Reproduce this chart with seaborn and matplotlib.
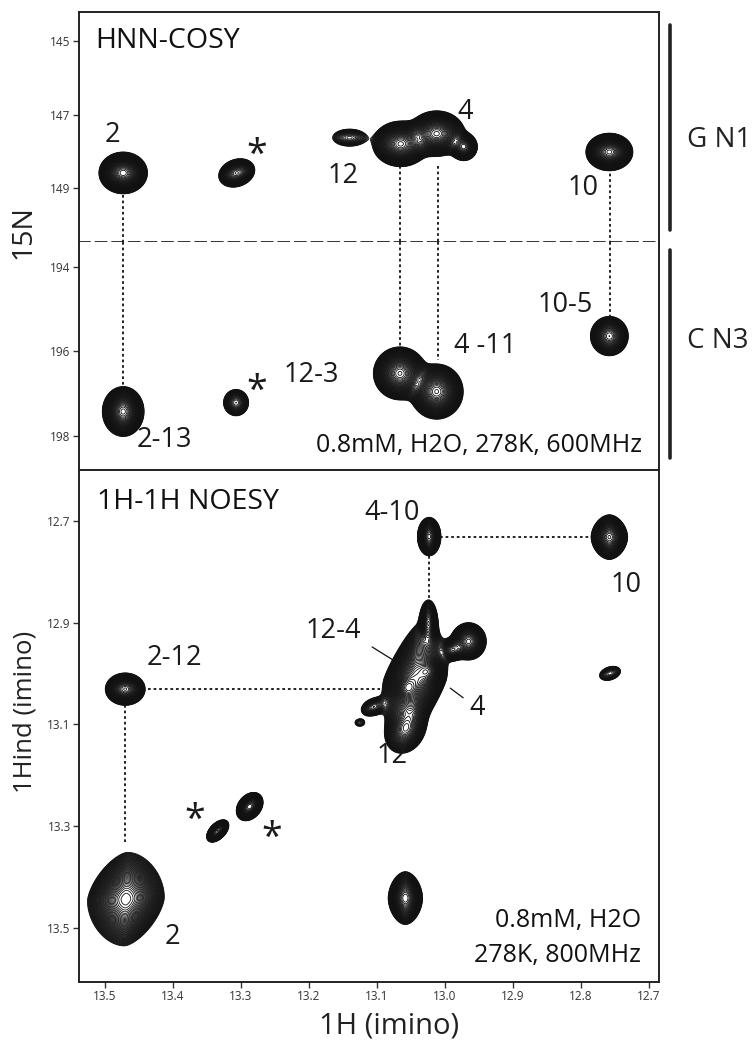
import numpy as np
import matplotlib
matplotlib.use("Agg")
import matplotlib.pyplot as plt
import matplotlib.transforms as mtransforms
from matplotlib.lines import Line2D
import seaborn as sns

sns.set_style("ticks")
plt.rcParams["font.family"] = ["Open Sans", "DejaVu Sans"]

# ---------------------------------------------------------------
# Peak tables: 1H shift, indirect shift, linewidths, height, tilt, shape
# (shape 2 = elliptical gaussian, lower = more diamond-like)

# HNN-COSY, guanine N1 window
gn1_h     = [13.473, 13.306, 13.140, 13.065, 13.012, 12.972, 12.758]
gn1_n     = [148.59, 148.59, 147.63, 147.80, 147.52, 147.88, 148.02]
gn1_sh    = [0.0135, 0.0120, 0.0150, 0.0160, 0.0160, 0.0090, 0.0135]
gn1_sn    = [0.215, 0.175, 0.140, 0.240, 0.240, 0.170, 0.200]
gn1_amp   = [1.00, 0.35, 0.12, 0.85, 0.85, 0.35, 0.80]
gn1_rho   = [0.0, 0.2, 0.0, 0.0, 0.0, 0.0, 0.0]
gn1_shape = [2.0, 2.0, 2.0, 2.0, 2.0, 2.0, 2.0]

# HNN-COSY, cytosine N3 window
cn3_h     = [13.473, 13.307, 13.066, 13.012, 12.758]
cn3_n     = [197.42, 197.21, 196.52, 196.95, 195.64]
cn3_sh    = [0.0120, 0.0095, 0.0150, 0.0150, 0.0120]
cn3_sn    = [0.230, 0.160, 0.240, 0.250, 0.200]
cn3_amp   = [0.80, 0.20, 0.90, 0.90, 0.45]
cn3_rho   = [0.0, 0.0, 0.0, 0.0, 0.0]
cn3_shape = [2.0, 2.0, 2.0, 2.0, 2.0]

# 1H-1H NOESY, imino region
noe_x     = [13.469, 13.470, 13.334, 13.287, 13.058, 13.023, 12.758, 12.757,
             13.044, 13.056, 13.024, 13.024, 12.965, 12.989, 13.058, 13.105, 13.125]
noe_y     = [13.444, 13.031, 13.310, 13.262, 13.442, 12.731, 12.732, 13.000,
             13.013, 13.029, 12.996, 12.900, 12.937, 12.954, 13.111, 13.066, 13.097]
noe_sx    = [0.0215, 0.0120, 0.0072, 0.0085, 0.0105, 0.0073, 0.0110, 0.0100,
             0.0195, 0.0080, 0.0080, 0.0060, 0.0110, 0.0080, 0.0130, 0.0100, 0.0060]
noe_sy    = [0.0350, 0.0130, 0.0097, 0.0120, 0.0216, 0.0160, 0.0180, 0.0090,
             0.0445, 0.0120, 0.0120, 0.0200, 0.0155, 0.0100, 0.0200, 0.0100, 0.0060]
noe_amp   = [1.00, 0.60, 0.40, 0.45, 0.55, 0.50, 0.60, 0.10,
             1.00, 0.50, 0.50, 0.35, 0.50, 0.25, 0.40, 0.15, 0.06]
noe_rho   = [0.15, 0.0, 0.5, 0.3, 0.0, 0.0, 0.0, 0.3,
             0.45, 0.0, 0.0, 0.0, 0.0, 0.0, 0.2, 0.3, 0.0]
noe_shape = [1.65, 2.0, 2.0, 2.0, 1.8, 2.0, 1.8, 2.0,
             1.6, 2.0, 2.0, 2.0, 2.0, 2.0, 2.0, 2.0, 2.0]

# HNN-COSY correlations G N1 -> C N3 (1H shift, N1 end, N3 end)
link_h  = [13.473, 13.066, 13.010, 12.757]
link_n1 = [149.20, 148.40, 148.40, 148.46]
link_n3 = [196.83, 195.92, 196.20, 195.19]

# NOESY walk segments (x0, x1, y0, y1)
walk_x0 = [13.007, 13.023, 13.436, 13.470]
walk_x1 = [12.786, 13.023, 13.095, 13.470]
walk_y0 = [12.731, 12.770, 13.031, 13.062]
walk_y1 = [12.731, 12.881, 13.031, 13.331]

# leader lines on the crowded diagonal
lead_x0 = [13.107, 12.992]
lead_x1 = [13.077, 12.973]
lead_y0 = [12.948, 13.029]
lead_y1 = [12.973, 13.048]

# assignment labels
gn1_lab   = ["2", "12", "4", "10"]
gn1_lab_x = [13.489, 13.149, 12.970, 12.797]
gn1_lab_y = [147.74, 148.86, 147.11, 149.20]
cn3_lab   = ["2-13", "12-3", "4 -11", "10-5"]
cn3_lab_x = [13.413, 13.196, 12.941, 12.823]
cn3_lab_y = [198.25, 196.72, 196.03, 195.06]
noe_lab   = ["4-10", "10", "12-4", "2-12", "4", "12", "2"]
noe_lab_x = [13.078, 12.733, 13.164, 13.398, 12.952, 13.078, 13.400]
noe_lab_y = [12.699, 12.839, 12.931, 12.983, 13.082, 13.176, 13.533]

# artefact (*) marks
star_ax = [0, 1, 2, 2]
star_x  = [13.276, 13.276, 13.368, 13.254]
star_y  = [147.92, 196.77, 13.275, 13.310]

x_ticks   = [13.5, 13.4, 13.3, 13.2, 13.1, 13.0, 12.9, 12.8, 12.7]
gn1_ticks = [145, 147, 149]
cn3_ticks = [194, 196, 198]
noe_ticks = [12.7, 12.9, 13.1, 13.3, 13.5]

XLIM = (13.538, 12.685)
GN1_LIM = (150.47, 144.21)
CN3_LIM = (198.80, 193.42)
NOE_LIM = (13.607, 12.600)

W, H = 752, 1043
fig = plt.figure(figsize=(W / 100, H / 100), dpi=100)


def box(top, bottom):
    return [79 / W, 1 - bottom / H, 580 / W, (bottom - top) / H]


ax1 = fig.add_axes(box(12, 242))
ax2 = fig.add_axes(box(242, 470))
ax3 = fig.add_axes(box(470, 982))
axes = [ax1, ax2, ax3]


def peaks_field(xlim, ylim, xs, ys, sx, sy, amp, rho, shape, nx=1000, ny=700):
    gx = np.linspace(min(xlim), max(xlim), nx)
    gy = np.linspace(min(ylim), max(ylim), ny)
    X, Y = np.meshgrid(gx, gy)
    Z = np.zeros_like(X)
    for x0, y0, a, b, A, r, q in zip(xs, ys, sx, sy, amp, rho, shape):
        u = (X - x0) / a
        v = (Y - y0) / b
        d2 = ((np.abs(u) ** q + np.abs(v) ** q) ** (2.0 / q) - 2 * r * u * v) / (1 - r * r)
        Z += A * np.exp(-0.5 * d2)
    return X, Y, Z


def draw_contours(ax, X, Y, Z, base=0.03, step=1.07):
    n = int(np.log(Z.max() / base) / np.log(step)) + 1
    levels = base * step ** np.arange(n)
    ax.contour(X, Y, Z, levels=levels, colors="#111111", linewidths=0.6)


for ax, args, ylim in [
    (ax1, (gn1_h, gn1_n, gn1_sh, gn1_sn, gn1_amp, gn1_rho, gn1_shape), GN1_LIM),
    (ax2, (cn3_h, cn3_n, cn3_sh, cn3_sn, cn3_amp, cn3_rho, cn3_shape), CN3_LIM),
    (ax3, (noe_x, noe_y, noe_sx, noe_sy, noe_amp, noe_rho, noe_shape), NOE_LIM),
]:
    X, Y, Z = peaks_field(XLIM, ylim, *args)
    draw_contours(ax, X, Y, Z)
    ax.set_xlim(*XLIM)
    ax.set_ylim(*ylim)

dot = (0, (1.5, 1.6))
line_kw = dict(color="#111111", lw=1.3, sort=False, estimator=None)
for h, n1, n3 in zip(link_h, link_n1, link_n3):
    sns.lineplot(x=[h, h], y=[n1, GN1_LIM[0]], ax=ax1, linestyle=dot, **line_kw)
    sns.lineplot(x=[h, h], y=[CN3_LIM[1], n3], ax=ax2, linestyle=dot, **line_kw)
for x0, x1, y0, y1 in zip(walk_x0, walk_x1, walk_y0, walk_y1):
    sns.lineplot(x=[x0, x1], y=[y0, y1], ax=ax3, linestyle=dot, **line_kw)
for x0, x1, y0, y1 in zip(lead_x0, lead_x1, lead_y0, lead_y1):
    sns.lineplot(x=[x0, x1], y=[y0, y1], ax=ax3, color="#111111", lw=0.9,
                 sort=False, estimator=None)

# axes styling
for ax in axes:
    for s in ax.spines.values():
        s.set_linewidth(1.4)
        s.set_color("#222222")
    ax.tick_params(axis="y", direction="out", length=4, width=1, labelsize=8.5,
                   colors="#333333", pad=2)
    ax.set_xlabel("")
    ax.set_ylabel("")
for ax in (ax1, ax2):
    ax.set_xticks([])
ax1.spines["bottom"].set_linestyle((0, (6, 3.2)))
ax1.spines["bottom"].set_linewidth(1.3)
ax2.spines["top"].set_visible(False)

ax1.set_yticks(gn1_ticks)
ax1.set_yticklabels([str(t) for t in gn1_ticks])
ax2.set_yticks(cn3_ticks)
ax2.set_yticklabels([str(t) for t in cn3_ticks])
ax3.set_yticks(noe_ticks)
ax3.set_yticklabels([f"{t:.1f}" for t in noe_ticks])
ax3.set_xticks(x_ticks)
ax3.set_xticklabels([f"{t:.1f}" for t in x_ticks])
ax3.tick_params(axis="x", direction="out", length=4, width=1, labelsize=8.5,
                colors="#333333", pad=2)

INK = "#1a1a1a"
LAB = 19.5
for ax, labs, xs, ys in [(ax1, gn1_lab, gn1_lab_x, gn1_lab_y),
                         (ax2, cn3_lab, cn3_lab_x, cn3_lab_y),
                         (ax3, noe_lab, noe_lab_x, noe_lab_y)]:
    for t, x, y in zip(labs, xs, ys):
        ax.text(x, y, t, fontsize=LAB, ha="center", va="baseline", color=INK)

for i, x, y in zip(star_ax, star_x, star_y):
    ax = axes[i]
    tr = mtransforms.offset_copy(ax.transData, fig=fig, x=0, y=-8, units="dots")
    ax.text(x, y, "*", fontsize=27, ha="center", va="center", color=INK, transform=tr)

ax1.text(13.514, 145.2, "HNN-COSY", fontsize=20.5, ha="left", va="baseline", color="#111111")
ax3.text(13.512, 12.677, "1H-1H NOESY", fontsize=20.5, ha="left", va="baseline", color="#111111")
ax2.text(12.710, 198.37, "0.8mM, H2O, 278K, 600MHz", fontsize=18,
         ha="right", va="baseline", color="#111111")
ax3.text(12.712, 13.498, "0.8mM, H2O", fontsize=18, ha="right", va="baseline", color="#111111")
ax3.text(12.712, 13.567, "278K, 800MHz", fontsize=18, ha="right", va="baseline", color="#111111")

# 15N group bars and names
fig.add_artist(Line2D([670 / W, 670 / W], [1 - 25 / H, 1 - 230 / H], color="#222222", lw=2.6))
fig.add_artist(Line2D([670 / W, 670 / W], [1 - 250 / H, 1 - 458 / H], color="#222222", lw=2.6))
fig.text(687 / W, 1 - 146.7 / H, "G N1", fontsize=20, ha="left", va="baseline", color="#222222")
fig.text(687 / W, 1 - 348.3 / H, "C N3", fontsize=20, ha="left", va="baseline", color="#222222")

fig.text(23 / W, 1 - 232 / H, "15N", fontsize=20.5, rotation=90, ha="center", va="center", color="#222222")
fig.text(25 / W, 1 - 712 / H, "1Hind (imino)", fontsize=18.5, rotation=90, ha="center", va="center", color="#222222")
fig.text(389 / W, 1 - 1026 / H, "1H (imino)", fontsize=21, ha="center", va="center", color="#222222")

fig.savefig("out.png", dpi=100, facecolor="white")
